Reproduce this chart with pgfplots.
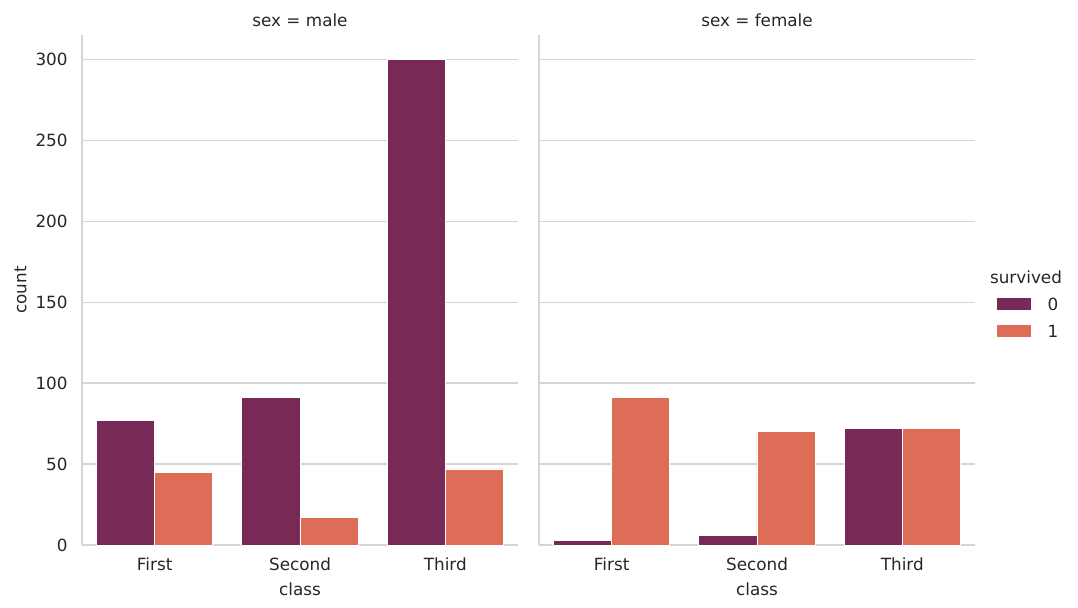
\documentclass[border=0pt]{standalone}
\usepackage{pgfplots}
\pgfplotsset{compat=1.18}
\usepackage{fontspec}
\setmainfont{DejaVu Sans}
\definecolor{died}{HTML}{772A55}
\definecolor{surv}{HTML}{DD6D56}
\definecolor{gridc}{HTML}{D5D5D5}
\definecolor{txt}{HTML}{262626}
\newcommand\sz{\fontsize{8.4}{10}\selectfont}

\pgfplotsset{panel/.style={
  anchor=south west, scale only axis, width=218pt, height=255pt,
  xmin=-0.5, xmax=2.5, ymin=0, ymax=315,
  xtick={0,1,2}, xticklabels={First,Second,Third},
  ytick={0,50,...,300},
  axis x line*=bottom, axis y line*=left,
  axis line style={gridc, line width=0.6pt, -},
  major tick length=0pt,
  ymajorgrids, grid style={gridc, line width=0.6pt},
  ybar, bar width=0.4,
  clip mode=individual,
  tick label style={font=\sz, text=txt},
  /pgf/number format/assume math mode=true,
  label style={font=\sz, text=txt},
  title style={font=\sz, text=txt, at={(axis description cs:0.5,1)}, anchor=base, yshift=-1.5pt, inner sep=0pt},
  xlabel=class,
  xlabel style={at={(axis description cs:0.5,0)}, anchor=base, yshift=-25pt, inner sep=0pt},
  xticklabel style={anchor=base, inner sep=0pt, yshift=-12.5pt},
  yticklabel style={anchor=east, inner sep=0pt, xshift=-7pt},
  bar0/.style={fill=died, draw=white, line width=0.4pt, bar shift=-0.2,
    legend image code/.code={\fill[died] (0pt,-2.8pt) rectangle (16.5pt,2.8pt);}},
  bar1/.style={fill=surv, draw=white, line width=0.4pt, bar shift=0.2,
    legend image code/.code={\fill[surv] (0pt,-2.8pt) rectangle (16.5pt,2.8pt);}},
}}

\begin{document}
\begin{tikzpicture}
\useasboundingbox (0,0) rectangle (539pt,303.5pt);

% sex = male
\begin{axis}[panel, at={(41pt,31pt)}, title={sex = male}, ylabel=count,
  ylabel style={at={([xshift=-30.75pt]axis description cs:0,0.5)}, anchor=center}]
\addplot[bar0] coordinates {(0,77) (1,91) (2,300)};
\addplot[bar1] coordinates {(0,45) (1,17) (2,47)};
\end{axis}

% sex = female
\begin{axis}[panel, at={(269.5pt,31pt)}, title={sex = female}, yticklabels={},
  legend style={at={(axis description cs:1.05,0.484)}, anchor=north west,
    draw=none, fill=none, font=\sz, text=txt, inner sep=0pt, outer sep=0pt,
    nodes={inner sep=0pt, text height=6pt, text depth=0pt},
    row sep=7.5pt, /tikz/every odd column/.style={column sep=8.5pt}},
  legend cell align=left]
\addplot[bar0] coordinates {(0,3) (1,6) (2,72)};
\addlegendentry{0}
\addplot[bar1] coordinates {(0,91) (1,70) (2,72)};
\addlegendentry{1}
\node[font=\sz, text=txt, anchor=base, inner sep=0pt] at (axis description cs:1.117,0.512) {survived};
\end{axis}
\end{tikzpicture}
\end{document}
